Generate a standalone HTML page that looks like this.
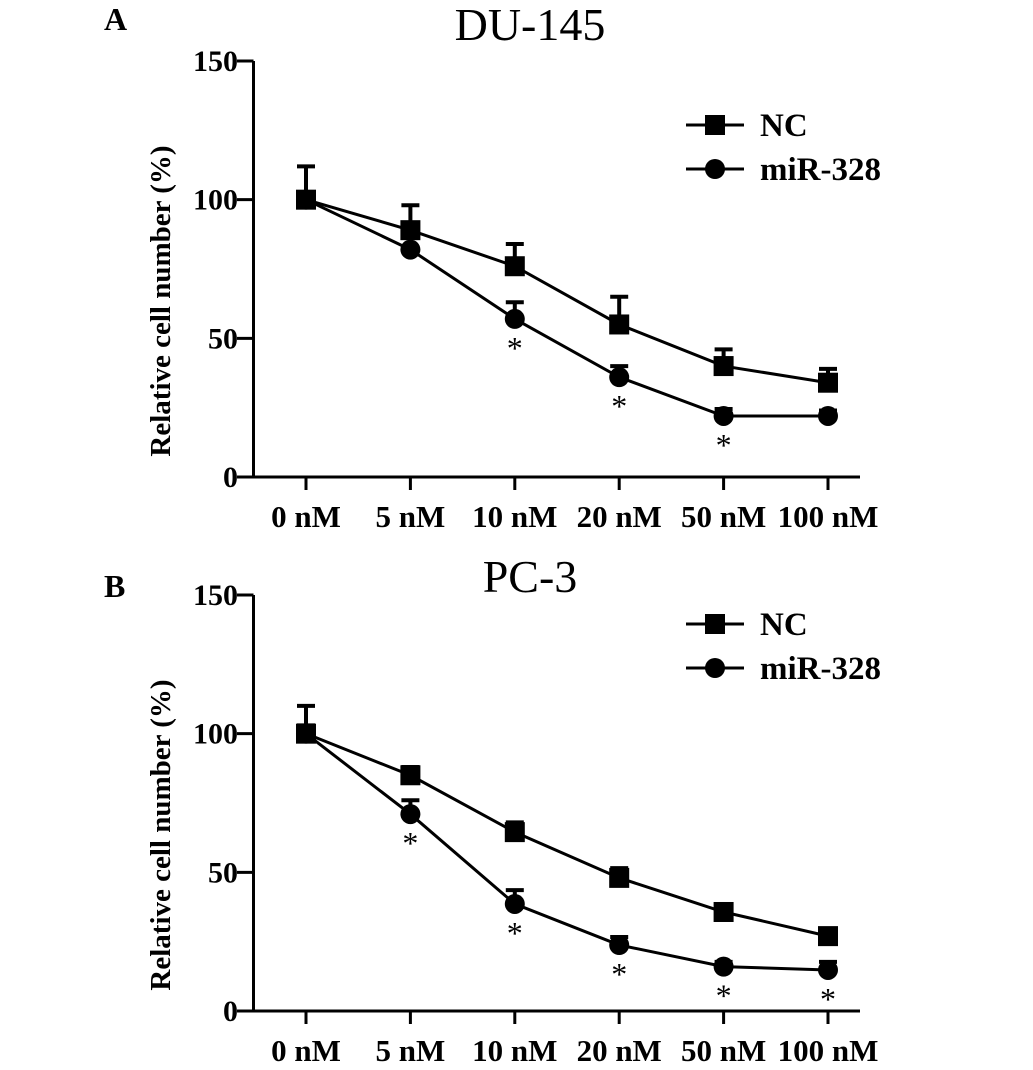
<!DOCTYPE html>
<html><head><meta charset="utf-8"><style>
html,body{margin:0;padding:0;background:#fff;}
svg{display:block;font-family:"Liberation Serif",serif;}
</style></head><body>
<svg id="chart" width="1033" height="1070" viewBox="0 0 1033 1070" xmlns="http://www.w3.org/2000/svg"></svg>
<script>
const categories=["0 nM","5 nM","10 nM","20 nM","50 nM","100 nM"];
const yTicks=[0,50,100,150];
const ncA=[100,89,76,55,40,34];
const ncAErr=[112,98,84,65,46,39];
const mirA=[100,82,57,36,22,22];
const mirAErr=[100,82,63,40,24.5,24];
const starsA=[false,false,true,true,true,false];
const ncB=[100,85,64.5,48,35.7,27];
const ncBErr=[110,88,68,51.5,38,29];
const mirB=[100,71,38.6,23.8,16,14.8];
const mirBErr=[103,76,43.6,26.7,17.7,17.7];
const starsB=[false,true,true,true,true,true];

const NS="http://www.w3.org/2000/svg";
const svg=document.getElementById('chart');
function mk(tag,attrs,parent){const e=document.createElementNS(NS,tag);for(const k in attrs)e.setAttribute(k,attrs[k]);(parent||svg).appendChild(e);return e;}

function panel(p){
  const g=mk('g',{});
  
  
  const x=i=>306+i*104.4;
  const y=v=>p.y0-v*(p.y0-p.y150)/150;
  const lt=mk('text',{x:p.letterX,y:p.letterY,'font-size':32,'font-weight':'bold'},g);lt.textContent=p.letter;
  
  const tt=mk('text',{x:530,y:p.titleY,'font-size':46,'text-anchor':'middle'},g);tt.textContent=p.title;
  
  const ax=mk('path',{d:`M253.5,${p.y150} V${p.y0} M237,${p.y0} H860`,stroke:'#000','stroke-width':3,fill:'none'},g);
  
  yTicks.forEach(v=>{
    mk('line',{x1:237,x2:253.5,y1:y(v),y2:y(v),stroke:'#000','stroke-width':3},g);
    const t=mk('text',{x:238,y:y(v)+10,'font-size':30,'font-weight':'bold','text-anchor':'end'},g);t.textContent=v;
    
  });
  categories.forEach((c,i)=>{
    mk('line',{x1:x(i),x2:x(i),y1:p.y0,y2:p.y0+13,stroke:'#000','stroke-width':3},g);
    const t=mk('text',{x:x(i),y:p.y0+50,'font-size':31,'font-weight':'bold','text-anchor':'middle'},g);t.textContent=c;
    
  });
  const yl=mk('text',{transform:`translate(170,${(p.y0+p.y150)/2+32}) rotate(-90)`,'font-size':29,'font-weight':'bold','text-anchor':'middle'},g);
  yl.textContent='Relative cell number (%)';
  
  function series(vals,errs,shape,nm){
    const sg=mk('g',{},g);
    
    mk('polyline',{points:vals.map((v,i)=>x(i)+','+y(v)).join(' '),fill:'none',stroke:'#000','stroke-width':3},sg);
    vals.forEach((v,i)=>{
      if(errs[i]>v+0.5){
        mk('line',{x1:x(i),x2:x(i),y1:y(v),y2:y(errs[i]),stroke:'#000','stroke-width':4},sg);
        mk('line',{x1:x(i)-9,x2:x(i)+9,y1:y(errs[i]),y2:y(errs[i]),stroke:'#000','stroke-width':4},sg);
      }
      if(shape==='sq')mk('rect',{x:x(i)-10,y:y(v)-10,width:20,height:20,fill:'#000'},sg);
      else mk('circle',{cx:x(i),cy:y(v),r:10,fill:'#000'},sg);
    });
  }
  series(p.nc,p.ncE,'sq','nc-series');
  series(p.mir,p.mirE,'ci','mir-328-series');
  p.stars.forEach((s,i)=>{if(s){const t=mk('text',{x:x(i),y:y(p.mir[i])+40,'font-size':32,'text-anchor':'middle'},g);t.textContent='*';
    }});
  const lg=mk('g',{},g);
  mk('line',{x1:686,x2:744,y1:p.legY,y2:p.legY,stroke:'#000','stroke-width':3},lg);
  mk('rect',{x:705,y:p.legY-10,width:20,height:20,fill:'#000'},lg);
  let t=mk('text',{x:760,y:p.legY+11,'font-size':33,'font-weight':'bold'},lg);t.textContent='NC';
  
  mk('line',{x1:686,x2:744,y1:p.legY+44,y2:p.legY+44,stroke:'#000','stroke-width':3},lg);
  mk('circle',{cx:715,cy:p.legY+44,r:10,fill:'#000'},lg);
  t=mk('text',{x:760,y:p.legY+55,'font-size':33,'font-weight':'bold'},lg);t.textContent='miR-328';
  
}
panel({name:'panel-a-du145',letter:'A',letterX:104,letterY:30,title:'DU-145',titleY:40,y0:477,y150:61,nc:ncA,ncE:ncAErr,mir:mirA,mirE:mirAErr,stars:starsA,legY:125});
panel({name:'panel-b-pc3',letter:'B',letterX:104,letterY:597,title:'PC-3',titleY:592,y0:1011,y150:595,nc:ncB,ncE:ncBErr,mir:mirB,mirE:mirBErr,stars:starsB,legY:624});
</script>
</body></html>
